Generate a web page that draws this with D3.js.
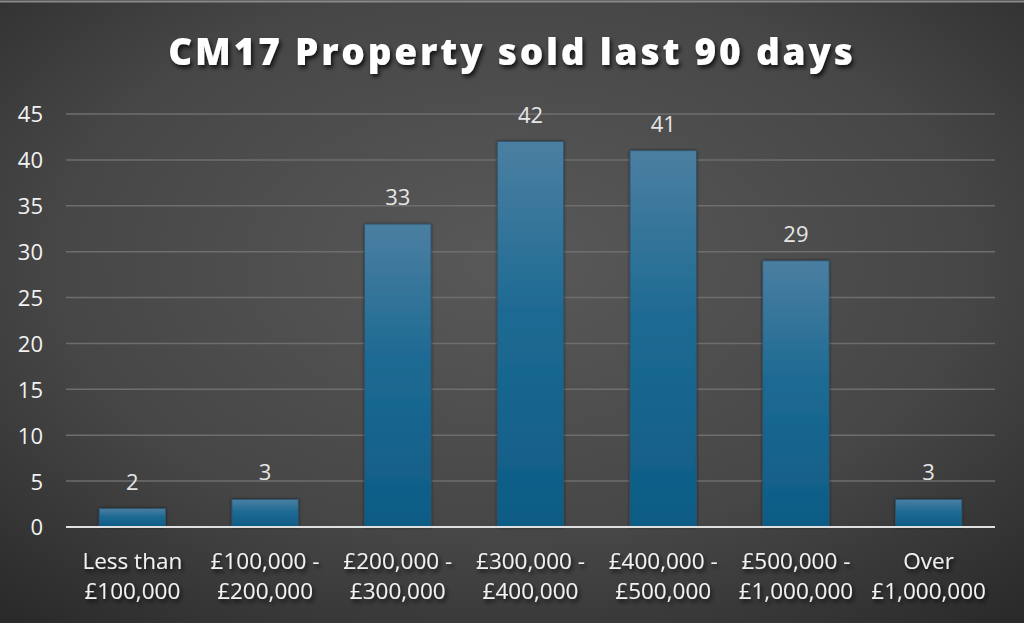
<!DOCTYPE html>
<html><head><meta charset="utf-8">
<script src="https://cdn.jsdelivr.net/npm/d3@7"></script>
<style>
html,body{margin:0;padding:0;background:#3a3a3a;overflow:hidden;}
svg{display:block;}
</style></head>
<body>
<svg id="chart" width="1024" height="623"></svg>
<script>
const categories = [
  ["Less than", "£100,000"],
  ["£100,000 -", "£200,000"],
  ["£200,000 -", "£300,000"],
  ["£300,000 -", "£400,000"],
  ["£400,000 -", "£500,000"],
  ["£500,000 -", "£1,000,000"],
  ["Over", "£1,000,000"]
];
const values = [2, 3, 33, 42, 41, 29, 3];
const yTicks = [0, 5, 10, 15, 20, 25, 30, 35, 40, 45];
const title = "CM17 Property sold last 90 days";

const W = 1024, H = 623;
const margin = {left: 66, right: 29, top: 114, bottom: 96};
const svg = d3.select("#chart");
const defs = svg.append("defs");

const bg = defs.append("radialGradient").attr("id","bg")
  .attr("cx","50%").attr("cy","42%").attr("r","75%");
bg.append("stop").attr("offset","0%").attr("stop-color","#595959");
bg.append("stop").attr("offset","60%").attr("stop-color","#464646");
bg.append("stop").attr("offset","100%").attr("stop-color","#2a2a2a");

const barG = defs.append("linearGradient").attr("id","barg")
  .attr("x1","0").attr("y1","0").attr("x2","0").attr("y2","1");
barG.append("stop").attr("offset","0%").attr("stop-color","#4b7fa1");
barG.append("stop").attr("offset","45%").attr("stop-color","#1d6a93");
barG.append("stop").attr("offset","100%").attr("stop-color","#0d5c86");

const shadow = defs.append("filter").attr("id","tshadow")
  .attr("x","-10%").attr("y","-30%").attr("width","120%").attr("height","160%");
shadow.append("feDropShadow").attr("dx",2).attr("dy",3).attr("stdDeviation",2)
  .attr("flood-color","#000").attr("flood-opacity",0.75);

const bshadow = defs.append("filter").attr("id","bshadow")
  .attr("x","-20%").attr("y","-20%").attr("width","140%").attr("height","140%");
bshadow.append("feDropShadow").attr("dx",0).attr("dy",0).attr("stdDeviation",1.5)
  .attr("flood-color","#000").attr("flood-opacity",0.6);

svg.append("rect").attr("width",W).attr("height",H).attr("fill","url(#bg)");
svg.append("line").attr("x1",0).attr("x2",W).attr("y1",1.5).attr("y2",1.5)
  .attr("stroke","#8a8a8a").attr("stroke-width",2);

const x = d3.scaleBand().domain(d3.range(categories.length))
  .range([margin.left, W - margin.right]).paddingInner(0.5).paddingOuter(0.25);
const y = d3.scaleLinear().domain([0, 45]).range([H - margin.bottom, margin.top]);

// gridlines
svg.append("g").selectAll("line").data(yTicks.filter(d => d > 0)).join("line")
  .attr("x1", margin.left).attr("x2", W - margin.right)
  .attr("y1", d => y(d)).attr("y2", d => y(d))
  .attr("stroke", "#6e6e6e").attr("stroke-width", 1.5);

// y axis labels
const yAxis = d3.axisLeft(y).tickValues(yTicks).tickSize(0).tickPadding(0);
const yg = svg.append("g").attr("transform", `translate(${margin.left - 23},0)`).call(yAxis);
yg.select(".domain").remove();
yg.selectAll("text").attr("fill","#f2f2f2").attr("font-family","'Open Sans', sans-serif")
  .attr("font-size", 22).attr("dy","0.36em");

// bars
svg.append("g").selectAll("rect").data(values).join("rect")
  .attr("x", (d,i) => x(i)).attr("width", x.bandwidth())
  .attr("y", d => y(d)).attr("height", d => y(0) - y(d))
  .attr("fill", "url(#barg)").attr("filter","url(#bshadow)")
  .attr("stroke","#2f5570").attr("stroke-width",0.8);

// x axis line
svg.append("line").attr("x1", margin.left).attr("x2", W - margin.right)
  .attr("y1", y(0)).attr("y2", y(0)).attr("stroke","#e0e0e0").attr("stroke-width",2);

// data labels
svg.append("g").selectAll("text").data(values).join("text")
  .attr("x", (d,i) => x(i) + x.bandwidth()/2).attr("y", d => y(d) - 19)
  .attr("text-anchor","middle").attr("fill","#e6e6e6")
  .attr("font-family","'Open Sans', sans-serif").attr("font-size", 22)
  .text(d => d);

// category labels
const cl = svg.append("g").selectAll("text").data(categories).join("text")
  .attr("text-anchor","middle").attr("fill","#f2f2f2")
  .attr("font-family","'Open Sans', sans-serif").attr("font-size", 22.5)
  .attr("filter","url(#tshadow)");
cl.each(function(d,i){
  const t = d3.select(this);
  const cx = x(i) + x.bandwidth()/2;
  d.forEach((line,j) => {
    t.append("tspan").attr("x", cx).attr("y", 569 + j*30).text(line);
  });
});

// title
svg.append("text").attr("x", W/2).attr("y", 65).attr("text-anchor","middle")
  .attr("fill","#ffffff").attr("font-family","'Open Sans', sans-serif")
  .attr("font-weight", 800).attr("font-size", 37).attr("letter-spacing", 2.8)
  .attr("filter","url(#tshadow)")
  .text(title);
</script>
</body></html>
